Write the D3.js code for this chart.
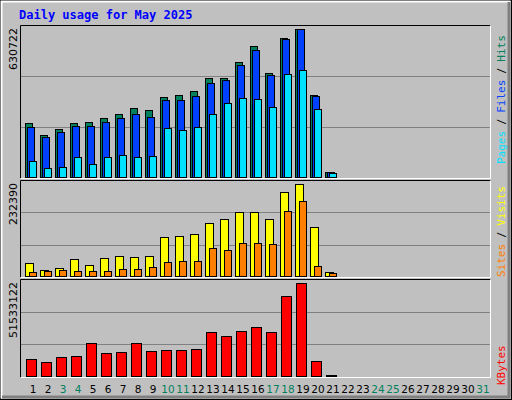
<!DOCTYPE html>
<html>
<head>
<meta charset="utf-8">
<script src="https://cdn.jsdelivr.net/npm/d3@7"></script>
<style>
  body { margin: 0; background: #fff; }
  svg { display: block; }
</style>
</head>
<body>
<svg id="chart" width="512" height="400"></svg>
<script>
// daily values for May 2025 (day 1..21 have data)
const days = d3.range(1, 32);
const weekendDays = [3, 4, 10, 11, 17, 18, 24, 25, 31];

const hits = [228300, 177000, 202600, 228300, 232600, 249700, 266800, 292500, 284000, 339600, 348200,
  365300, 421000, 421000, 489500, 558000, 442400, 592200, 630722, 348200, 22800];
const files = [211200, 168400, 189800, 215500, 215500, 232600, 249700, 266800, 254000, 326800, 326800,
  343900, 399600, 412400, 476600, 540800, 433800, 587900, 630700, 343900, 22800];
const pages = [69900, 40000, 44200, 87000, 57100, 87000, 95600, 87000, 91300, 206900, 198400,
  211200, 266800, 313900, 335300, 331100, 296800, 438100, 455200, 288300, 18600];
const visits = [32800, 15200, 20200, 42900, 27800, 45500, 50500, 48000, 50500, 98500, 101000,
  106100, 133900, 144000, 161700, 161700, 144000, 212200, 232390, 123800, 10100];
const sites = [10100, 12600, 15200, 12600, 12600, 12600, 17700, 17700, 22700, 35400, 37900,
  37900, 70700, 65700, 83400, 83400, 80800, 164200, 189400, 25300, 7600];
const kbytes = [9216000, 7523000, 10344000, 10908000, 18243000, 12601000, 13165000, 18243000, 13730000,
  14294000, 14294000, 14858000, 24450000, 22193000, 25014000, 27271000, 24450000, 44198000,
  51533122, 8087000, 752000];

const svg = d3.select("#chart");
const mono = "'DejaVu Sans Mono', monospace";

// window frame
svg.append("rect").attr("x", 0.5).attr("y", 0.5).attr("width", 511).attr("height", 399)
  .attr("fill", "#c0c0c0").attr("stroke", "#000");
svg.append("path").attr("d", "M1.5,398.5 L1.5,1.5 L510.5,1.5").attr("fill", "none").attr("stroke", "#fff").attr("stroke-width", 2);
svg.append("path").attr("d", "M2,397 L509,397 L509,2").attr("fill", "none").attr("stroke", "#808080").attr("stroke-width", 3);

svg.append("text").attr("x", 19).attr("y", 19).text("Daily usage for May 2025")
  .attr("font-family", mono).attr("font-weight", "bold").attr("font-size", 12).attr("fill", "#0000ff");

const x = d3.scaleLinear().domain([1, 2]).range([25, 40]);

function panel(top, bottom, maxVal, series, maxLabel, labels, labelY) {
  const g = svg.append("g");
  const y = d3.scaleLinear().domain([0, maxVal]).range([bottom - 1, top + 4]);
  // frame
  g.append("path").attr("d", `M20.5,${bottom + 0.5} L20.5,${top + 0.5} L490.5,${top + 0.5}`)
    .attr("fill", "none").attr("stroke", "#000");
  g.append("path").attr("d", `M20.5,${bottom + 0.5} L490.5,${bottom + 0.5} L490.5,${top + 0.5}`)
    .attr("fill", "none").attr("stroke", "#fff");
  // grid lines
  const h = bottom - top;
  [1 / 3, 2 / 3].forEach(f => {
    const gy = Math.round(bottom - h * f) + 0.5;
    g.append("line").attr("x1", 21).attr("x2", 490).attr("y1", gy).attr("y2", gy)
      .attr("stroke", "#808080");
  });
  series.forEach(s => {
    g.selectAll(null).data(s.values).join("rect")
      .attr("x", (d, i) => x(i + 1) + s.dx + 0.5)
      .attr("y", d => Math.round(y(d)) + 0.5)
      .attr("width", s.w)
      .attr("height", d => Math.max(0, bottom - 1 - Math.round(y(d))))
      .attr("fill", s.color).attr("stroke", "#000");
  });
  g.append("text").attr("transform", `translate(17,${top + 3}) rotate(-90)`)
    .attr("text-anchor", "end").attr("font-family", "'DejaVu Sans', sans-serif").attr("font-size", 11)
    .attr("fill", "#000").text(maxLabel);
  const t = g.append("text").attr("transform", `translate(505,${labelY}) rotate(-90)`)
    .attr("font-family", mono).attr("font-size", 11);
  labels.forEach((l, i) => {
    if (i > 0) t.append("tspan").attr("fill", "#000").text(" / ").attr("font-size", 10);
    t.append("tspan").attr("fill", l[1]).text(l[0]);
  });
}

panel(25, 178, 630722, [
  { values: hits, color: "#00805c", dx: 0, w: 7 },
  { values: files, color: "#0040ff", dx: 2, w: 7 },
  { values: pages, color: "#00e0ff", dx: 4, w: 7 }
], "630722", [["Pages", "#00e0ff"], ["Files", "#0040ff"], ["Hits", "#00805c"]], 164);

panel(180, 277, 232390, [
  { values: visits, color: "#ffff00", dx: 0, w: 8 },
  { values: sites, color: "#ff8000", dx: 4, w: 7 }
], "232390", [["Sites", "#ff8000"], ["Visits", "#ffff00"]], 277);

panel(279, 377, 51533122, [
  { values: kbytes, color: "#ff0000", dx: 1, w: 10 }
], "51533122", [["KBytes", "#ff0000"]], 385);

// day labels
svg.append("g").selectAll("text").data(days).join("text")
  .attr("x", d => x(d) + 8).attr("y", 393)
  .attr("text-anchor", "middle").attr("font-family", "'DejaVu Sans', sans-serif").attr("font-size", 10.5)
  .attr("fill", d => weekendDays.includes(d) ? "#00805c" : "#000")
  .text(d => d);
</script>
</body>
</html>
